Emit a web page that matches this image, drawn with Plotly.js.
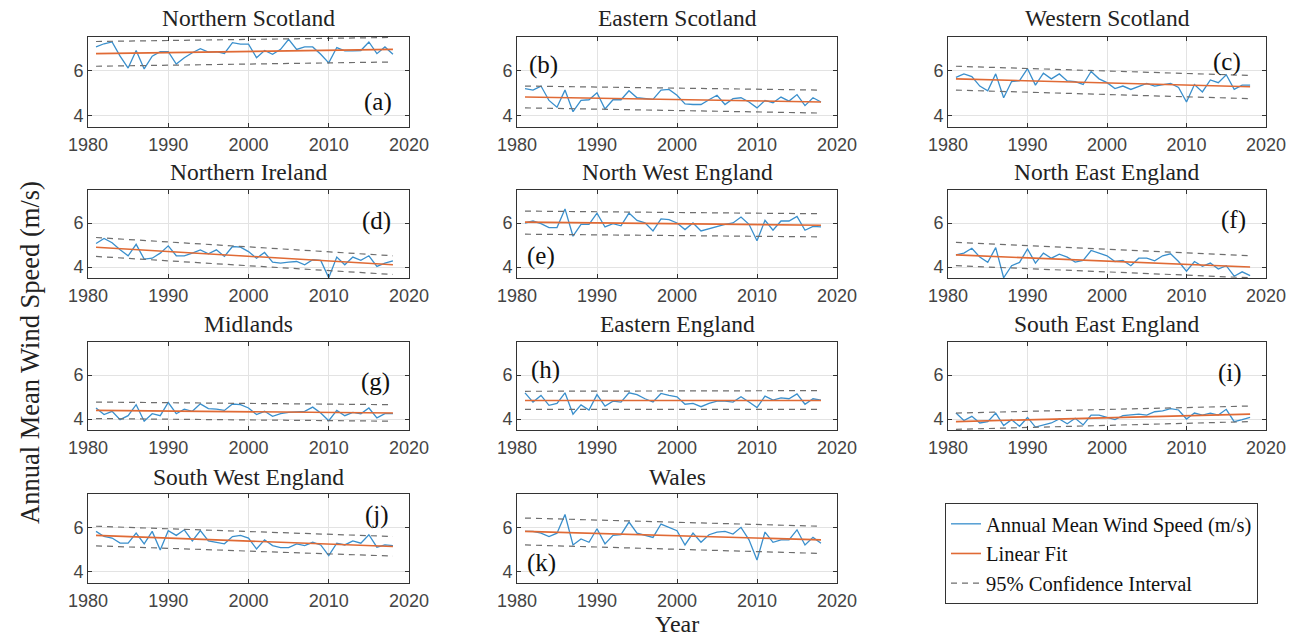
<!DOCTYPE html>
<html><head><meta charset="utf-8">
<script src="https://cdn.plot.ly/plotly-3.0.1.min.js"></script>
<style>html,body{margin:0;padding:0;background:#fff}#chart{width:1296px;height:636px}</style>
</head><body><div id="chart"></div>
<script>
const years = [1981,1982,1983,1984,1985,1986,1987,1988,1989,1990,1991,1992,1993,1994,1995,1996,1997,1998,1999,2000,2001,2002,2003,2004,2005,2006,2007,2008,2009,2010,2011,2012,2013,2014,2015,2016,2017,2018];
const regionNames = ['Northern Scotland','Eastern Scotland','Western Scotland','Northern Ireland','North West England','North East England','Midlands','Eastern England','South East England','South West England','Wales'];
const panelLabels = ['(a)','(b)','(c)','(d)','(e)','(f)','(g)','(h)','(i)','(j)','(k)'];

const northernScotland = [7.06,7.2,7.28,6.65,6.12,6.9,6.08,6.65,6.85,6.85,6.3,6.58,6.8,6.98,6.83,6.85,6.77,7.25,7.18,7.18,6.58,6.9,6.73,6.95,7.4,6.95,7.06,7.06,6.73,6.35,7.03,6.88,6.88,6.9,7.28,6.76,7.06,6.73];
const easternScotland = [5.21,5.14,5.32,4.68,4.38,5.14,4.18,4.68,4.71,5.02,4.3,4.71,4.71,5.11,4.8,4.76,4.73,5.14,5.17,4.91,4.53,4.5,4.5,4.71,4.91,4.5,4.76,4.8,4.61,4.35,4.68,4.58,4.83,4.65,4.94,4.45,4.8,4.61];
const westernScotland = [5.71,5.86,5.74,5.32,5.11,5.86,4.8,5.52,5.56,6.09,5.36,5.89,5.64,5.86,5.55,5.52,5.39,5.97,5.64,5.47,5.21,5.32,5.17,5.29,5.44,5.32,5.39,5.44,5.26,4.61,5.39,5.06,5.59,5.47,5.82,5.17,5.36,5.36];
const northernIreland = [5.07,5.3,5.1,4.78,4.51,5.03,4.36,4.4,4.63,4.96,4.51,4.51,4.63,4.78,4.6,4.78,4.48,4.93,4.9,4.7,4.4,4.66,4.22,4.18,4.22,4.25,4.1,4.33,4.3,3.51,4.45,4.1,4.45,4.3,4.51,4.03,4.18,4.28];
const northWestEngland = [6.0,6.09,5.97,5.79,5.79,6.64,5.4,5.94,5.94,6.45,5.82,5.97,5.87,6.45,6.12,6.01,5.64,6.19,6.15,6.0,5.7,6.0,5.64,5.75,5.85,5.94,6.0,6.27,5.94,5.19,6.12,5.67,6.09,6.09,6.3,5.67,5.85,5.82];
const northEastEngland = [4.55,4.63,4.85,4.45,4.21,4.88,3.51,4.06,4.21,4.82,4.18,4.63,4.4,4.58,4.45,4.22,4.3,4.75,4.63,4.51,4.25,4.3,4.06,4.4,4.4,4.28,4.51,4.6,4.25,3.81,4.25,4.03,4.18,3.91,4.06,3.58,3.78,3.61];
const midlands = [4.5,4.2,4.35,3.97,4.15,4.65,3.9,4.24,4.15,4.75,4.24,4.45,4.35,4.69,4.47,4.45,4.39,4.68,4.65,4.5,4.2,4.35,4.12,4.24,4.3,4.32,4.35,4.54,4.27,3.92,4.39,4.15,4.3,4.24,4.5,4.05,4.24,4.24];
const easternEngland = [5.19,4.77,5.07,4.62,4.71,5.19,4.22,4.64,4.41,5.11,4.59,4.81,4.77,5.19,5.11,4.92,4.77,5.16,5.07,5.01,4.67,4.71,4.56,4.71,4.81,4.81,4.77,5.01,4.77,4.52,5.04,4.86,4.96,4.92,5.14,4.67,4.92,4.86];
const southEastEngland = [4.27,3.93,4.12,3.82,3.88,4.27,3.7,3.97,3.67,4.07,3.63,3.73,3.82,4.0,3.78,4.03,3.73,4.18,4.18,4.07,3.97,4.15,4.18,4.22,4.18,4.33,4.37,4.47,4.41,4.0,4.27,4.18,4.27,4.18,4.44,3.88,3.97,4.07];
const southWestEngland = [5.82,5.59,5.52,5.29,5.29,5.74,5.26,5.82,4.98,5.85,5.64,5.89,5.39,5.86,5.39,5.33,5.26,5.59,5.64,5.52,5.03,5.44,5.18,5.09,5.09,5.26,5.18,5.33,5.21,4.73,5.29,5.21,5.39,5.29,5.67,5.11,5.21,5.18];
const wales = [5.82,5.82,5.74,5.59,5.74,6.58,5.21,5.48,5.33,5.94,5.26,5.64,5.67,6.24,5.74,5.64,5.55,6.15,6.0,5.85,5.21,5.74,5.33,5.67,5.79,5.82,5.7,6.0,5.44,4.53,5.79,5.33,5.44,5.44,5.89,5.21,5.55,5.29];

// linear fit and 95% confidence bounds at the first and last year, per region
const fitStart     = [6.76,4.83,5.64,4.9,6.04,4.55,4.39,4.84,3.88,5.64,5.82];
const fitEnd       = [6.95,4.61,5.29,4.1,5.9,4.0,4.27,4.84,4.22,5.14,5.44];
const ciUpperStart = [7.3,5.32,6.2,5.34,6.54,5.12,4.77,5.26,4.27,6.05,6.42];
const ciUpperEnd   = [7.48,5.14,5.79,4.51,6.42,4.51,4.65,5.29,4.59,5.59,6.05];
const ciLowerStart = [6.2,4.35,5.14,4.48,5.49,4.06,4.02,4.44,3.53,5.17,5.21];
const ciLowerEnd   = [6.39,4.12,4.76,3.66,5.37,3.51,3.9,4.44,3.88,4.71,4.83];

const series = [northernScotland,easternScotland,westernScotland,northernIreland,northWestEngland,northEastEngland,midlands,easternEngland,southEastEngland,southWestEngland,wales];

const W = 1296, H = 636;
const px = v => v / W;
const py = v => 1 - v / H;
const colX = [[88,409],[517,837],[948,1266]];
const rowY = [[37,127],[190,278],[342,430],[494,583]];
const titleY = [18,172,324,477];
const labelPos = [[378,102],[543,65],[1227,62],[376,221],[541,256],[1233,220],[375,382],[545,370],[1230,373],[377,515],[541,563]];

const blue = '#3a8fcc', orange = '#e06a35', dash = '#6e6e6e';
const serif = 'Liberation Serif, Times New Roman, serif';
const sans = 'Liberation Sans, Arial, sans-serif';

const traces = [];
const layout = {
  width: W, height: H,
  margin: {l:0, r:0, t:0, b:0},
  paper_bgcolor: '#fff', plot_bgcolor: '#fff',
  showlegend: true,
  legend: {
    x: px(945), y: py(503), xanchor: 'left', yanchor: 'top',
    bordercolor: '#333', borderwidth: 1, bgcolor: '#fff',
    font: {family: serif, size: 20.5, color: '#111'},
    tracegroupgap: 0
  },
  annotations: [],
  hovermode: false
};

const firstYear = years[0], lastYear = years[years.length - 1];

series.forEach((vals, i) => {
  const row = Math.floor(i / 3), col = i % 3;
  const sfx = i === 0 ? '' : String(i + 1);
  const xa = 'x' + sfx, ya = 'y' + sfx;
  const axisCommon = {
    showgrid: true, gridcolor: '#e3e3e3', gridwidth: 1,
    zeroline: false, showline: true, linecolor: '#333', linewidth: 1,
    mirror: 'ticks', ticks: 'inside', ticklen: 4, tickcolor: '#333',
    tickfont: {family: sans, size: 18, color: '#444'},
    fixedrange: true
  };
  layout['xaxis' + sfx] = Object.assign({}, axisCommon, {
    domain: [px(colX[col][0]), px(colX[col][1])],
    anchor: ya, range: [1980, 2020], tickvals: [1980,1990,2000,2010,2020],
    ticklabelstandoff: 1
  });
  layout['yaxis' + sfx] = Object.assign({}, axisCommon, {
    domain: [py(rowY[row][1]), py(rowY[row][0])],
    anchor: xa, range: [3.5, 7.5], tickvals: [4, 6]
  });
  const show = i === 0;
  traces.push({x: years, y: vals, xaxis: xa, yaxis: ya, type: 'scatter', mode: 'lines',
    line: {color: blue, width: 1.3}, name: 'Annual Mean Wind Speed (m/s)', showlegend: show, legendgroup: 'a'});
  traces.push({x: [firstYear, lastYear], y: [fitStart[i], fitEnd[i]], xaxis: xa, yaxis: ya, type: 'scatter', mode: 'lines',
    line: {color: orange, width: 1.6}, name: 'Linear Fit', showlegend: show, legendgroup: 'b'});
  traces.push({x: [firstYear, lastYear], y: [ciUpperStart[i], ciUpperEnd[i]], xaxis: xa, yaxis: ya, type: 'scatter', mode: 'lines',
    line: {color: dash, width: 1.2, dash: '6px,5px'}, name: '95% Confidence Interval', showlegend: show, legendgroup: 'c'});
  traces.push({x: [firstYear, lastYear], y: [ciLowerStart[i], ciLowerEnd[i]], xaxis: xa, yaxis: ya, type: 'scatter', mode: 'lines',
    line: {color: dash, width: 1.2, dash: '6px,5px'}, name: '95% Confidence Interval', showlegend: false, legendgroup: 'c'});

  layout.annotations.push({
    text: regionNames[i], xref: 'paper', yref: 'paper',
    x: px((colX[col][0] + colX[col][1]) / 2), y: py(titleY[row]),
    xanchor: 'center', yanchor: 'middle', showarrow: false,
    font: {family: serif, size: 23.5, color: '#222'}
  });
  layout.annotations.push({
    text: panelLabels[i], xref: 'paper', yref: 'paper',
    x: px(labelPos[i][0]), y: py(labelPos[i][1]),
    xanchor: 'center', yanchor: 'middle', showarrow: false,
    font: {family: serif, size: 25, color: '#111'}
  });
});

layout.annotations.push({
  text: 'Annual Mean Wind Speed (m/s)', xref: 'paper', yref: 'paper',
  x: px(30), y: py(353), xanchor: 'center', yanchor: 'middle', textangle: -90, showarrow: false,
  font: {family: serif, size: 26.5, color: '#222'}
});
layout.annotations.push({
  text: 'Year', xref: 'paper', yref: 'paper',
  x: px(677), y: py(624), xanchor: 'center', yanchor: 'middle', showarrow: false,
  font: {family: serif, size: 24, color: '#222'}
});

Plotly.newPlot('chart', traces, layout, {displayModeBar: false, staticPlot: true});
</script>
</body></html>
